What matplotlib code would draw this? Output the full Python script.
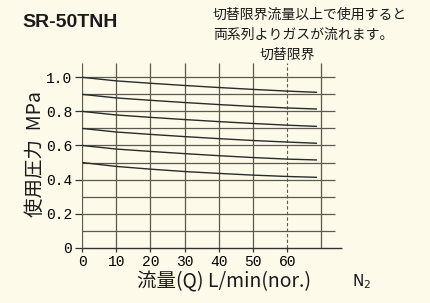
import matplotlib
matplotlib.use("Agg")
import matplotlib.pyplot as plt

# ---- data ----
flow = [0, 10, 20, 30, 40, 50, 60, 68.5]
p100 = [1.00, 0.979, 0.965, 0.952, 0.940, 0.929, 0.919, 0.912]
p090 = [0.90, 0.879, 0.865, 0.852, 0.840, 0.829, 0.820, 0.814]
p080 = [0.80, 0.779, 0.765, 0.752, 0.740, 0.729, 0.719, 0.712]
p070 = [0.70, 0.679, 0.665, 0.652, 0.640, 0.629, 0.620, 0.613]
p060 = [0.60, 0.579, 0.565, 0.552, 0.540, 0.529, 0.520, 0.515]
p050 = [0.50, 0.477, 0.461, 0.447, 0.436, 0.426, 0.418, 0.413]
curves = [p100, p090, p080, p070, p060, p050]

x_ticks = [0, 10, 20, 30, 40, 50, 60]
x_grid = [0, 10, 20, 30, 40, 50, 70]
switch_limit = 60
y_ticks = [0, 0.2, 0.4, 0.6, 0.8, 1.0]
y_tick_labels = ["0", "0.2", "0.4", "0.6", "0.8", "1.0"]
y_grid = [0.1, 0.2, 0.3, 0.4, 0.5, 0.6, 0.7, 0.8, 0.9, 1.0]

bg = "#fdfae9"
grid_c = "#5b5a50"
jp = ["Noto Sans CJK JP", "DejaVu Sans"]
mono = ["Liberation Mono", "DejaVu Sans Mono"]

fig = plt.figure(figsize=(4.30, 3.03), dpi=100, facecolor=bg)
ax = fig.add_axes([0.1907, 0.1825, 0.6047, 0.613])
ax.set_facecolor(bg)
ax.set_xlim(0, 76)
ax.set_ylim(0, 1.09)
for s in ax.spines.values():
    s.set_visible(False)

top = 1.085
ax.vlines(x_grid, 0, top, color=grid_c, lw=0.9)
ax.vlines([switch_limit], 0, top, color=grid_c, lw=0.8, linestyles=(0, (3, 2)))
ax.hlines(y_grid, 0, 74, color=grid_c, lw=0.9)
ax.hlines([0], 0, 76, color="#333333", lw=1.0, clip_on=False)

for c in curves:
    ax.plot(flow, c, color="#2a2a2a", lw=1.0)

ax.set_xticks(x_ticks)
ax.set_xticklabels([str(v) for v in x_ticks], family=mono, fontsize=10.5)
ax.set_yticks(y_ticks)
ax.set_yticklabels(y_tick_labels, family=mono, fontsize=10.5)
ax.tick_params(axis="x", length=3, width=0.9, color="#333333", pad=2)
ax.tick_params(axis="y", length=5, width=0.9, color="#333333", pad=2)

# title and notes
fig.text(0.051, 0.955, "SR-50TNH", family=["Liberation Sans"], fontweight="bold",
         fontsize=14, va="top", ha="left", color="#1a1a1a")
fig.text(0.495, 0.975, "切替限界流量以上で使用すると", family=jp, fontsize=10,
         va="top", ha="left", color="#1a1a1a")
fig.text(0.495, 0.908, "両系列よりガスが流れます。", family=jp, fontsize=10,
         va="top", ha="left", color="#1a1a1a")
fig.text(0.668, 0.843, "切替限界", family=jp, fontsize=10,
         va="top", ha="center", color="#1a1a1a")

# axis labels
fig.text(0.083, 0.49, "使用圧力  MPa", family=jp, fontsize=14, rotation=90,
         va="center", ha="center", color="#1a1a1a")
fig.text(0.52, 0.069, "流量(Q) L/min(nor.)", family=jp, fontsize=14,
         va="center", ha="center", color="#1a1a1a")
fig.text(0.842, 0.069, "N$_2$", family=["DejaVu Sans"], fontsize=11,
         va="center", ha="center", color="#1a1a1a")

fig.savefig("out.png", dpi=100, facecolor=bg)
